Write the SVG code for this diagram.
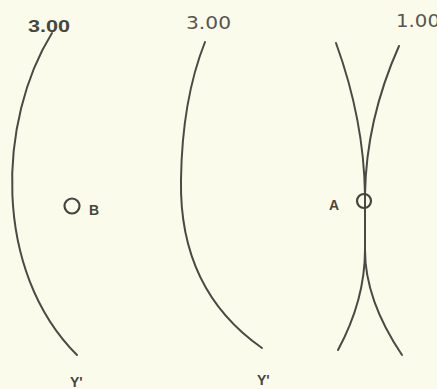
<svg xmlns="http://www.w3.org/2000/svg" width="437" height="389" viewBox="0 0 437 389">
<style>
.c{fill:none;stroke:#4a4a44;stroke-width:2;stroke-linecap:round}
.o{fill:none;stroke:#45453f;stroke-width:2.2}
.b{font-family:"Liberation Sans",Arial,sans-serif;font-weight:bold;fill:#46463f}
.r{font-family:"DejaVu Sans","Liberation Sans",sans-serif;fill:#55554d}
</style>
<rect width="437" height="389" fill="#fbfbec"/>
<g id="connectors">
<path class="c" d="M52,33 C-2,120 -8,270 77,355"/>
<path class="c" d="M205,42 Q182,100 181,180 Q179,290 262,348"/>
<path class="c" d="M336,43 Q364,120 365,195 L365,250 Q365,300 338,350"/>
<path class="c" d="M399,46 Q366,120 365,195 L365,250 Q365,300 402,355"/>
</g>
<g id="label-left"><text class="b" x="28" y="32" font-size="16" textLength="42" lengthAdjust="spacingAndGlyphs">3.00</text></g>
<g id="label-mid"><text class="r" x="186" y="29" font-size="18" textLength="45" lengthAdjust="spacingAndGlyphs">3.00</text></g>
<g id="label-right"><text class="r" x="396" y="27" font-size="18" textLength="44" lengthAdjust="spacingAndGlyphs">1.00</text></g>
<g id="node-B">
<circle class="o" cx="72" cy="206" r="7.5"/>
<text class="b" x="89" y="215" font-size="14">B</text>
</g>
<g id="node-A">
<circle class="o" cx="364" cy="201" r="7"/>
<text class="b" x="329" y="210" font-size="14">A</text>
</g>
<g id="label-y1"><text class="b" x="70" y="387" font-size="14">Y'</text></g>
<g id="label-y2"><text class="b" x="257" y="385" font-size="14">Y'</text></g>
</svg>
